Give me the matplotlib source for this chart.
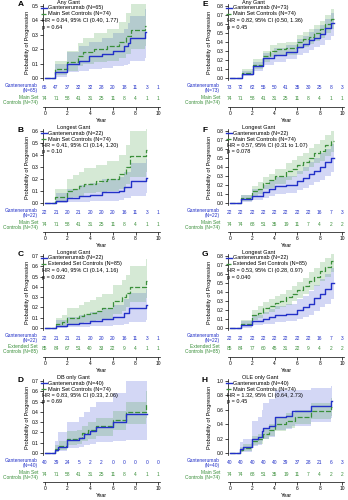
import numpy as np
import matplotlib; matplotlib.use("Agg")
import matplotlib.pyplot as plt
from matplotlib.lines import Line2D

plt.rcParams["font.family"] = ["Liberation Sans", "DejaVu Sans"]

BLUE = "#2230c8"; GREEN = "#3a8f3a"
BLUE_BAND = "#5060d8"; GREEN_BAND = "#5aa85a"
YEARS = np.arange(0, 11)

# --- A: any gant vs main set ---
a_g_t = [0, 0.95, 2.0, 3.0, 3.9, 5.0, 6.0, 7.0, 7.3, 7.5, 8.85, 8.95]
a_g_p = [0, 0.045, 0.10, 0.12, 0.15, 0.17, 0.19, 0.22, 0.24, 0.28, 0.32, 0.32]
a_g_lo = [0, 0.01, 0.04, 0.05, 0.06, 0.07, 0.08, 0.09, 0.10, 0.12, 0.14, 0.14]
a_g_hi = [0, 0.10, 0.18, 0.22, 0.25, 0.28, 0.31, 0.34, 0.38, 0.43, 0.48, 0.48]
a_c_t = [0, 0.95, 2.0, 2.9, 3.4, 4.3, 5.5, 6.5, 7.2, 7.6, 8.85, 8.95]
a_c_p = [0, 0.06, 0.11, 0.15, 0.18, 0.20, 0.22, 0.25, 0.29, 0.33, 0.36, 0.36]
a_c_lo = [0, 0.02, 0.05, 0.08, 0.10, 0.11, 0.12, 0.14, 0.17, 0.20, 0.22, 0.22]
a_c_hi = [0, 0.12, 0.19, 0.24, 0.28, 0.31, 0.34, 0.39, 0.45, 0.52, 0.56, 0.56]
a_risk_g = [65, 47, 37, 32, 32, 28, 20, 18, 11, 3, 1]
a_risk_c = [74, 71, 58, 41, 31, 25, 11, 8, 4, 1, 1]

# --- B: longest gant vs main set ---
b_g_t = [0, 1.0, 2.0, 3.0, 4.0, 5.0, 6.5, 7.0, 7.6, 8.9, 9.0]
b_g_p = [0, 0.02, 0.04, 0.06, 0.07, 0.09, 0.10, 0.13, 0.18, 0.21, 0.21]
b_g_lo = [0, 0.0, 0.005, 0.01, 0.015, 0.02, 0.025, 0.04, 0.06, 0.08, 0.08]
b_g_hi = [0, 0.08, 0.12, 0.15, 0.17, 0.20, 0.22, 0.26, 0.33, 0.37, 0.37]
b_c_t = [0, 0.9, 2.0, 2.5, 3.0, 3.5, 4.5, 5.5, 6.5, 7.2, 7.5, 8.9, 9.0]
b_c_p = [0, 0.05, 0.10, 0.12, 0.14, 0.16, 0.18, 0.20, 0.24, 0.30, 0.39, 0.44, 0.44]
b_c_lo = [0, 0.01, 0.04, 0.05, 0.06, 0.08, 0.09, 0.10, 0.12, 0.16, 0.22, 0.26, 0.26]
b_c_hi = [0, 0.12, 0.20, 0.23, 0.26, 0.29, 0.32, 0.35, 0.40, 0.48, 0.60, 0.65, 0.65]
b_risk_g = [22, 21, 20, 21, 20, 20, 20, 16, 11, 3, 1]
b_risk_c = [74, 71, 58, 41, 31, 25, 11, 8, 4, 1, 1]

# --- C: longest gant vs extended set ---
c_g_t = [0, 1.0, 2.0, 3.0, 4.0, 5.0, 6.0, 7.0, 7.4, 8.9, 9.0]
c_g_p = [0, 0.02, 0.04, 0.05, 0.07, 0.09, 0.11, 0.15, 0.19, 0.22, 0.22]
c_g_lo = [0, 0.0, 0.005, 0.01, 0.015, 0.02, 0.03, 0.04, 0.06, 0.08, 0.08]
c_g_hi = [0, 0.08, 0.11, 0.13, 0.16, 0.19, 0.22, 0.28, 0.34, 0.38, 0.38]
c_c_t = [0, 1.0, 1.5, 2.0, 3.0, 3.5, 4.0, 4.5, 5.0, 6.0, 6.8, 7.2, 7.5, 8.9, 9.0]
c_c_p = [0, 0.04, 0.06, 0.10, 0.12, 0.14, 0.15, 0.17, 0.19, 0.26, 0.30, 0.34, 0.40, 0.46, 0.46]
c_c_lo = [0, 0.01, 0.02, 0.04, 0.05, 0.06, 0.07, 0.08, 0.09, 0.14, 0.17, 0.20, 0.25, 0.29, 0.29]
c_c_hi = [0, 0.10, 0.13, 0.19, 0.22, 0.25, 0.27, 0.30, 0.33, 0.42, 0.47, 0.52, 0.60, 0.67, 0.67]
c_risk_g = [22, 21, 21, 21, 20, 20, 20, 16, 11, 3, 1]
c_risk_c = [85, 84, 67, 51, 40, 33, 22, 9, 4, 1, 1]

# --- D: DB only gant vs main set ---
d_g_t = [0, 0.9, 1.2, 2.0, 3.0, 3.5, 4.0, 4.5, 6.0, 7.2, 9.0]
d_g_p = [0, 0.03, 0.06, 0.13, 0.15, 0.18, 0.21, 0.25, 0.30, 0.38, 0.38]
d_g_lo = [0, 0.005, 0.02, 0.05, 0.06, 0.08, 0.09, 0.11, 0.12, 0.13, 0.13]
d_g_hi = [0, 0.12, 0.20, 0.30, 0.35, 0.40, 0.45, 0.50, 0.58, 0.70, 0.70]
d_c_t = [0, 0.9, 1.3, 2.0, 2.8, 3.3, 3.8, 4.5, 6.0, 7.2, 8.9, 9.0]
d_c_p = [0, 0.04, 0.07, 0.14, 0.15, 0.19, 0.22, 0.26, 0.32, 0.40, 0.48, 0.48]
d_c_lo = [0, 0.01, 0.03, 0.08, 0.09, 0.12, 0.14, 0.17, 0.22, 0.28, 0.34, 0.34]
d_c_hi = [0, 0.08, 0.12, 0.21, 0.22, 0.26, 0.30, 0.34, 0.41, 0.50, 0.60, 0.60]
d_risk_g = [40, 39, 24, 5, 2, 2, 0, 0, 0, 0, 0]
d_risk_c = [74, 71, 58, 41, 31, 25, 11, 8, 4, 1, 1]

# --- E: any gant vs main set ---
e_g_t = [0, 1.05, 2.05, 3.0, 3.9, 5.0, 6.0, 6.5, 7.0, 7.5, 8.0, 8.5, 9.0, 9.3]
e_g_p = [0, 0.05, 0.13, 0.22, 0.26, 0.29, 0.35, 0.38, 0.42, 0.45, 0.49, 0.55, 0.61, 0.61]
e_g_lo = [0, 0.02, 0.08, 0.15, 0.18, 0.21, 0.26, 0.28, 0.31, 0.34, 0.37, 0.42, 0.47, 0.47]
e_g_hi = [0, 0.08, 0.18, 0.28, 0.33, 0.37, 0.43, 0.47, 0.51, 0.55, 0.59, 0.66, 0.72, 0.72]
e_c_t = [0, 1.05, 2.05, 3.0, 3.6, 4.2, 5.0, 6.0, 6.5, 7.0, 7.5, 8.0, 8.5, 9.0, 9.3]
e_c_p = [0, 0.06, 0.15, 0.24, 0.30, 0.32, 0.33, 0.40, 0.43, 0.46, 0.50, 0.54, 0.60, 0.66, 0.66]
e_c_lo = [0, 0.03, 0.10, 0.18, 0.23, 0.25, 0.26, 0.32, 0.35, 0.38, 0.41, 0.45, 0.50, 0.55, 0.55]
e_c_hi = [0, 0.10, 0.21, 0.30, 0.37, 0.39, 0.40, 0.48, 0.51, 0.54, 0.59, 0.63, 0.70, 0.77, 0.77]
e_risk_g = [73, 72, 62, 55, 50, 41, 35, 30, 25, 8, 3]
e_risk_c = [74, 71, 58, 41, 31, 25, 11, 8, 4, 1, 1]

# --- F: longest gant vs main set ---
f_g_t = [0, 1.0, 2.0, 3.0, 3.5, 4.0, 5.0, 6.0, 6.5, 7.0, 7.5, 8.0, 8.5, 9.0, 9.3]
f_g_p = [0, 0.04, 0.08, 0.12, 0.15, 0.19, 0.20, 0.24, 0.28, 0.32, 0.36, 0.40, 0.45, 0.50, 0.50]
f_g_lo = [0, 0.01, 0.03, 0.06, 0.08, 0.10, 0.11, 0.14, 0.17, 0.20, 0.23, 0.26, 0.30, 0.34, 0.34]
f_g_hi = [0, 0.09, 0.15, 0.20, 0.24, 0.29, 0.30, 0.35, 0.40, 0.45, 0.50, 0.55, 0.60, 0.66, 0.66]
f_c_t = [0, 1.0, 2.0, 2.5, 3.0, 3.5, 4.0, 5.0, 5.5, 6.0, 6.5, 7.0, 7.5, 8.0, 8.5, 9.0, 9.3]
f_c_p = [0, 0.05, 0.13, 0.16, 0.22, 0.25, 0.30, 0.35, 0.38, 0.42, 0.46, 0.50, 0.55, 0.58, 0.64, 0.69, 0.69]
f_c_lo = [0, 0.02, 0.07, 0.10, 0.15, 0.17, 0.21, 0.26, 0.29, 0.32, 0.36, 0.40, 0.44, 0.47, 0.52, 0.57, 0.57]
f_c_hi = [0, 0.09, 0.19, 0.23, 0.29, 0.32, 0.38, 0.44, 0.48, 0.52, 0.56, 0.61, 0.66, 0.70, 0.76, 0.80, 0.80]
f_risk_g = [22, 22, 22, 22, 22, 22, 22, 22, 16, 7, 3]
f_risk_c = [74, 74, 68, 51, 35, 19, 11, 7, 4, 2, 2]

# --- G: longest gant vs extended set ---
g_g_t = [0, 1.0, 2.0, 3.0, 3.5, 4.0, 5.0, 6.0, 6.5, 7.0, 7.5, 8.0, 8.5, 9.0, 9.3]
g_g_p = [0, 0.03, 0.08, 0.10, 0.12, 0.15, 0.16, 0.20, 0.23, 0.27, 0.33, 0.38, 0.43, 0.50, 0.50]
g_g_lo = [0, 0.005, 0.03, 0.04, 0.05, 0.07, 0.08, 0.10, 0.12, 0.15, 0.19, 0.23, 0.27, 0.32, 0.32]
g_g_hi = [0, 0.08, 0.15, 0.18, 0.21, 0.25, 0.27, 0.32, 0.36, 0.41, 0.48, 0.54, 0.60, 0.67, 0.67]
g_c_t = [0, 1.0, 2.0, 2.5, 3.0, 3.5, 4.0, 4.5, 5.0, 5.5, 6.0, 6.5, 7.0, 7.5, 8.0, 8.5, 9.0, 9.3]
g_c_p = [0, 0.05, 0.14, 0.17, 0.22, 0.25, 0.28, 0.30, 0.34, 0.38, 0.42, 0.47, 0.52, 0.57, 0.63, 0.68, 0.74, 0.74]
g_c_lo = [0, 0.02, 0.09, 0.11, 0.16, 0.18, 0.21, 0.23, 0.26, 0.30, 0.33, 0.38, 0.42, 0.47, 0.52, 0.57, 0.62, 0.62]
g_c_hi = [0, 0.09, 0.20, 0.24, 0.29, 0.32, 0.36, 0.38, 0.42, 0.47, 0.51, 0.56, 0.62, 0.67, 0.73, 0.78, 0.84, 0.84]
g_risk_g = [22, 22, 22, 22, 22, 22, 22, 22, 16, 7, 3]
g_risk_c = [85, 84, 77, 60, 45, 31, 22, 9, 4, 2, 2]

# --- H: OLE only gant vs main set ---
h_g_t = [0, 0.9, 1.2, 2.0, 2.5, 2.9, 3.0, 3.5, 4.0, 5.0, 5.5, 7.2, 9.0, 9.05]
h_g_p = [0, 0.05, 0.08, 0.20, 0.22, 0.30, 0.35, 0.38, 0.50, 0.52, 0.58, 0.65, 0.72, 0.72]
h_g_lo = [0, 0.01, 0.02, 0.10, 0.11, 0.17, 0.20, 0.22, 0.32, 0.33, 0.38, 0.43, 0.48, 0.48]
h_g_hi = [0, 0.15, 0.20, 0.45, 0.50, 0.60, 0.70, 0.75, 0.87, 0.87, 0.87, 0.90, 0.93, 0.93]
h_c_t = [0, 0.9, 1.2, 2.0, 2.5, 3.0, 3.5, 4.0, 5.0, 5.8, 7.2, 9.0, 9.05]
h_c_p = [0, 0.04, 0.07, 0.17, 0.19, 0.27, 0.32, 0.40, 0.45, 0.50, 0.58, 0.64, 0.64]
h_c_lo = [0, 0.01, 0.03, 0.11, 0.13, 0.20, 0.24, 0.31, 0.35, 0.40, 0.47, 0.52, 0.52]
h_c_hi = [0, 0.08, 0.12, 0.24, 0.26, 0.35, 0.40, 0.49, 0.55, 0.60, 0.69, 0.76, 0.76]
h_risk_g = [40, 40, 40, 40, 40, 39, 37, 28, 21, 6, 3]
h_risk_c = [74, 74, 68, 51, 35, 19, 11, 7, 4, 2, 2]

# letter, title, gant label, control label, HR, p, top tick, tick step, column, row
PANELS = [
    ("A", "Any Gant", "Gantenerumab (N=65)", "Main Set Controls (N=74)",
     "HR = 0.84, 95% CI (0.40, 1.77)", "p = 0.64", 0.5, 0.1, 0, 0,
     (a_g_t, a_g_p, a_g_lo, a_g_hi), (a_c_t, a_c_p, a_c_lo, a_c_hi), a_risk_g, a_risk_c),
    ("B", "Longest Gant", "Gantenerumab (N=22)", "Main Set Controls (N=74)",
     "HR = 0.41, 95% CI (0.14, 1.20)", "p = 0.10", 0.6, 0.1, 0, 1,
     (b_g_t, b_g_p, b_g_lo, b_g_hi), (b_c_t, b_c_p, b_c_lo, b_c_hi), b_risk_g, b_risk_c),
    ("C", "Longest Gant", "Gantenerumab (N=22)", "Extended Set Controls (N=85)",
     "HR = 0.40, 95% CI (0.14, 1.16)", "p = 0.092", 0.7, 0.1, 0, 2,
     (c_g_t, c_g_p, c_g_lo, c_g_hi), (c_c_t, c_c_p, c_c_lo, c_c_hi), c_risk_g, c_risk_c),
    ("D", "DB only Gant", "Gantenerumab (N=40)", "Main Set Controls (N=74)",
     "HR = 0.83, 95% CI (0.33, 2.06)", "p = 0.69", 0.7, 0.1, 0, 3,
     (d_g_t, d_g_p, d_g_lo, d_g_hi), (d_c_t, d_c_p, d_c_lo, d_c_hi), d_risk_g, d_risk_c),
    ("E", "Any Gant", "Gantenerumab (N=73)", "Main Set Controls (N=74)",
     "HR = 0.82, 95% CI (0.50, 1.36)", "p = 0.45", 0.8, 0.1, 1, 0,
     (e_g_t, e_g_p, e_g_lo, e_g_hi), (e_c_t, e_c_p, e_c_lo, e_c_hi), e_risk_g, e_risk_c),
    ("F", "Longest Gant", "Gantenerumab (N=22)", "Main Set Controls (N=74)",
     "HR = 0.57, 95% CI (0.31 to 1.07)", "p = 0.078", 0.8, 0.1, 1, 1,
     (f_g_t, f_g_p, f_g_lo, f_g_hi), (f_c_t, f_c_p, f_c_lo, f_c_hi), f_risk_g, f_risk_c),
    ("G", "Longest Gant", "Gantenerumab (N=22)", "Extended Set Controls (N=85)",
     "HR = 0.53, 95% CI (0.28, 0.97)", "p = 0.040", 0.8, 0.1, 1, 2,
     (g_g_t, g_g_p, g_g_lo, g_g_hi), (g_c_t, g_c_p, g_c_lo, g_c_hi), g_risk_g, g_risk_c),
    ("H", "OLE only Gant", "Gantenerumab (N=40)", "Main Set Controls (N=74)",
     "HR = 1.32, 95% CI (0.64, 2.73)", "p = 0.45", 1.0, 0.2, 1, 3,
     (h_g_t, h_g_p, h_g_lo, h_g_hi), (h_c_t, h_c_p, h_c_lo, h_c_hi), h_risk_g, h_risk_c),
]

W, H = 348, 500
fig = plt.figure(figsize=(W / 100, H / 100), dpi=100)

def px_axes(x0, y0, x1, y1):
    return fig.add_axes([x0 / W, 1 - y1 / H, (x1 - x0) / W, (y1 - y0) / H])

def ftext(x, y, s, **kw):
    fig.text(x / W, 1 - y / H, s, **kw)

FS = 4.0      # legend / annotation text
TFS = 3.5     # tick labels and table text
COLS = [dict(x0=43, x1=160, lab=38, letter=21, ylab=27),
        dict(x0=228, x1=344, lab=220, letter=205, ylab=210)]

for (letter, title, glab, clab, hr, pv, ytop, ystep, col, row,
     gant, ctrl, risk_g, risk_c) in PANELS:
    c = COLS[col]; oy = row * 125
    ax = px_axes(c["x0"], oy + 4, c["x1"], oy + 80)
    pad = 2 * ytop / 72
    for (t, p, lo, hi), col_b in [(gant, BLUE_BAND), (ctrl, GREEN_BAND)]:
        ax.fill_between(t, lo, hi, step="post", color=col_b, alpha=0.25, lw=0)
    for (t, p, lo, hi), col_l, ls, lw in [(ctrl, GREEN, (0, (4, 1.5)), 0.9),
                                          (gant, BLUE, "-", 1.0)]:
        ax.step(t, p, where="post", color=col_l, ls=ls, lw=lw)
    ax.set_xlim(-0.15, 10.15); ax.set_ylim(-pad, ytop + pad)
    ax.set_yticks(np.round(np.arange(0, ytop + 1e-9, ystep), 2))
    ax.yaxis.set_major_formatter(plt.FormatStrFormatter("%.1f"))
    ax.tick_params(axis="y", labelsize=TFS, length=2, width=0.5, pad=1.2)
    ax.set_xticks([])
    for s in ["top", "right", "bottom"]:
        ax.spines[s].set_visible(False)
    ax.spines["left"].set_linewidth(0.5)
    ax.patch.set_alpha(0)

    ftext(c["ylab"], oy + 42, "Probability of Progression", fontsize=FS,
          rotation=90, ha="center", va="center")
    ftext(c["letter"], oy + 5, letter, fontsize=6, fontweight="bold", ha="center", va="center")

    # legend block
    lx = c["x0"] - 2
    ftext(lx + 16, oy + 2.5, title, fontsize=FS, va="center")
    fig.add_artist(Line2D([lx / W, (lx + 6) / W], [1 - (oy + 8) / H] * 2, color=BLUE, lw=1.0))
    ftext(lx + 7, oy + 8, glab, fontsize=FS, va="center")
    fig.add_artist(Line2D([lx / W, (lx + 6) / W], [1 - (oy + 14) / H] * 2, color=GREEN, lw=0.9,
                          ls=(0, (4, 1.5))))
    ftext(lx + 7, oy + 14, clab, fontsize=FS, va="center")
    ftext(lx + 1, oy + 20.5, hr, fontsize=FS, va="center")
    ftext(lx + 1, oy + 27, pv, fontsize=FS, va="center")

    # number-at-risk table with the shared year axis
    tb = px_axes(c["x0"], oy + 82, c["x1"], oy + 107)
    tb.set_xlim(-0.15, 10.15); tb.set_ylim(0, 1)
    for yr, ng, nc in zip(YEARS, risk_g, risk_c):
        tb.text(yr, 0.76, str(ng), color=BLUE, fontsize=TFS, ha="center", va="center")
        tb.text(yr, 0.32, str(nc), color=GREEN, fontsize=TFS, ha="center", va="center")
    gname, gn = glab.rsplit(" ", 1)
    cname, cn = clab.rsplit(" ", 1)
    cname = cname.replace(" Controls", "")
    ftext(c["lab"], oy + 88, gname + "\n" + gn, color=BLUE, fontsize=TFS, ha="right",
          va="center", linespacing=1.0)
    ftext(c["lab"], oy + 99.5, cname + "\nControls " + cn, color=GREEN, fontsize=TFS,
          ha="right", va="center", linespacing=1.0)
    tb.set_yticks([])
    tb.set_xticks(range(0, 11, 2))
    tb.tick_params(axis="x", labelsize=TFS, length=2, width=0.5, pad=1.2)
    for s in ["top", "right", "left"]:
        tb.spines[s].set_visible(False)
    tb.spines["bottom"].set_linewidth(0.5)
    tb.patch.set_alpha(0)
    tb.set_xlabel("Year", fontsize=FS, labelpad=0.8)

fig.savefig("out.png", dpi=100)
